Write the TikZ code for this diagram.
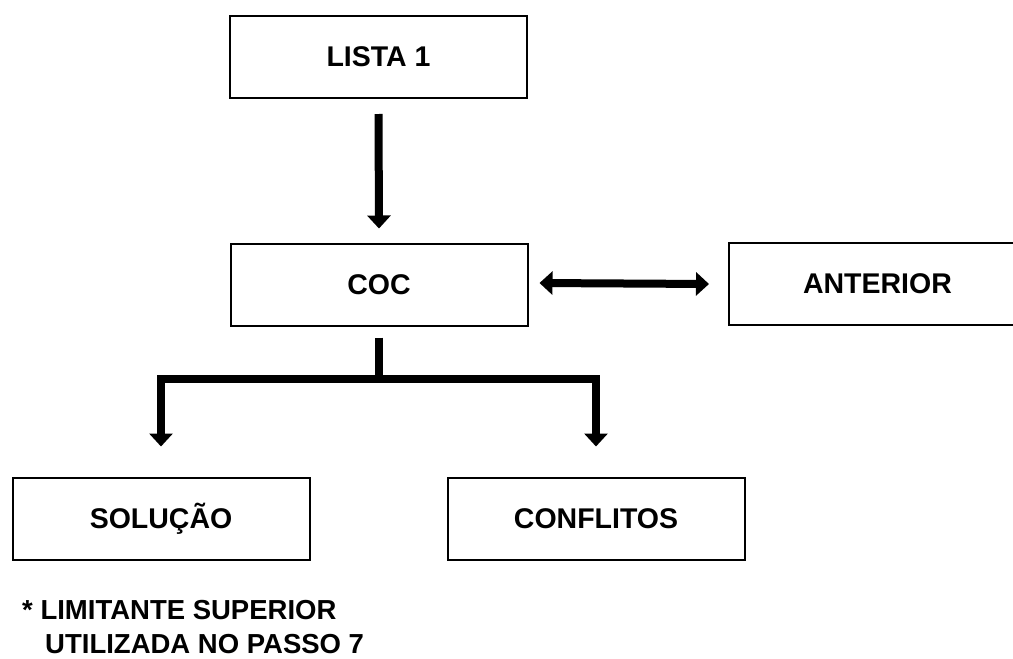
\documentclass[tikz,border=0pt]{standalone}
\usepackage{fontspec}
\setmainfont{Liberation Sans}
\usetikzlibrary{arrows.meta}
\tikzset{
  box/.style={draw=black, line width=2pt, minimum width=297pt, minimum height=82pt,
    inner sep=0pt, font=\fontsize{28.5}{32}\selectfont\bfseries},
  heavy/.style={line width=8pt, draw=black},
  heavyarrow/.style={heavy, -{Triangle[width=23pt,length=13pt]}},
  heavyboth/.style={heavy, {Triangle[width=23pt,length=13pt]}-{Triangle[width=23pt,length=13pt]}},
  note/.style={anchor=base west, inner sep=0pt, font=\fontsize{27.5}{32}\selectfont\bfseries}
}
\begin{document}
\begin{tikzpicture}[x=1pt, y=-1pt]
  \clip (0,0) rectangle (1013,659);
  \useasboundingbox (0,0) rectangle (1013,659);
  \node[box] (lista) at (378.5,57) {LISTA 1};
  \node[box] (coc) at (379,284.5) {COC};
  \node[box] (ant) at (877.5,284) {ANTERIOR};
  \node[box] (sol) at (161,518.5) {SOLUÇÃO};
  \node[box] (conf) at (596,518.5) {CONFLITOS};
  \node[note] (n1) at (22,619) {* LIMITANTE SUPERIOR};
  \node[note] (n2) at (45,653) {UTILIZADA NO PASSO 7};

  \draw[heavyarrow] ([yshift=-15pt]lista.south) -- ([yshift=14pt]coc.north);
  \draw[heavyboth] ([xshift=11pt,yshift=1.5pt]coc.east) -- ([xshift=-19pt]ant.west);

  \coordinate (fork) at (379,379);
  \draw[heavy] ([yshift=-11pt]coc.south) -- ([yshift=4pt]fork);
  \draw[heavyarrow] (fork) -| ([yshift=30pt]sol.north);
  \draw[heavyarrow] (fork) -| ([yshift=30pt]conf.north);
\end{tikzpicture}
\end{document}
